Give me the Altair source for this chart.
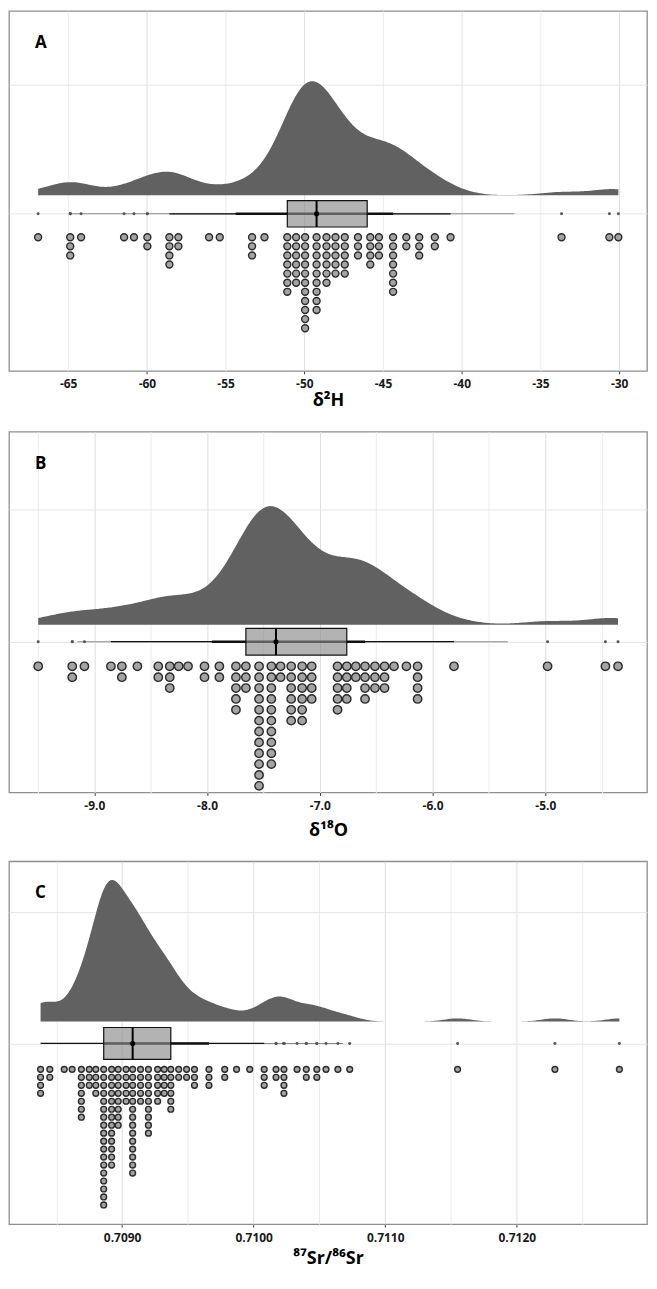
import altair as alt
import pandas as pd

# ---------------- data (dot-stack centres and number of stacked dots) ----------------
h2_values = [-66.91, -64.87, -64.18, -61.45, -60.82, -59.97, -58.57, -58.00, -56.05, -55.37,
             -53.32, -52.53, -51.08, -50.52, -49.95, -49.22, -48.59, -48.02, -47.43, -46.59,
             -45.81, -45.26, -44.36, -43.52, -42.70, -41.71, -40.71, -33.66, -30.62, -30.05]
h2_counts = [1, 3, 1, 1, 1, 2, 4, 2, 1, 1,
             3, 1, 7, 6, 11, 9, 6, 5, 5, 3,
             4, 3, 7, 2, 3, 2, 1, 1, 1, 1]

o18_values = [-9.498, -9.196, -9.088, -8.853, -8.756, -8.618, -8.433, -8.331, -8.252, -8.169,
              -8.023, -7.891, -7.744, -7.656, -7.539, -7.430, -7.348, -7.254, -7.157, -7.072,
              -6.843, -6.761, -6.681, -6.599, -6.511, -6.426, -6.342, -6.232, -6.133, -5.810,
              -4.980, -4.467, -4.355]
o18_counts = [1, 2, 1, 1, 2, 1, 2, 3, 1, 1,
              2, 2, 5, 3, 12, 10, 2, 6, 6, 4,
              5, 4, 2, 4, 3, 3, 1, 1, 4, 1,
              1, 1, 1]

sr_values = [0.70838, 0.70845, 0.70856, 0.70862, 0.70869, 0.70875, 0.70880, 0.70886, 0.70892, 0.70897,
             0.70903, 0.70908, 0.70914, 0.70920, 0.70927, 0.70932, 0.70937, 0.70943, 0.70949, 0.70955,
             0.70966, 0.70978, 0.70987, 0.70997, 0.71008, 0.71017, 0.71023, 0.71033, 0.71040, 0.71048,
             0.71055, 0.71064, 0.71073, 0.71155, 0.71229, 0.71278]
sr_counts = [4, 2, 1, 1, 7, 3, 4, 18, 13, 8,
             5, 14, 5, 9, 5, 4, 6, 2, 2, 3,
             3, 2, 1, 1, 3, 2, 4, 1, 2, 2,
             1, 1, 1, 1, 1, 1]

# ---------------- styling / layout ----------------
DENS_COLOR = "#616161"
DOT_FILL = "#a3a3a3"
DOT_STROKE = "#2b2b2b"
PLOT_W = 640
FONT = "Open Sans"


def expand(values, counts):
    rows = []
    for v, c in zip(values, counts):
        for k in range(c):
            rows.append({"val": v, "k": k})
    return pd.DataFrame(rows)


def neg_fmt(fmt):
    return ("datum.value < 0 ? '-' + format(-datum.value, '%s') : format(datum.value, '%s')" % (fmt, fmt))


panels = [
    dict(df=expand(h2_values, h2_counts), label="A", title="δ²H", tpad=2,
         xdom=[-68.76, -28.23], ticks=[-65, -60, -55, -50, -45, -40, -35, -30],
         major="datum.value % 10 === 0", labels="true", fmt=".0f",
         h=361, ydom=[-161, 208], ytick=132, base=19, H=117, bw=1.35,
         off=24, step=9.33, dsize=49, bh=13.5),
    dict(df=expand(o18_values, o18_counts), label="B", title="δ¹⁸O", tpad=10,
         xdom=[-9.757, -4.098], ticks=[-9.5, -9.0, -8.5, -8.0, -7.5, -7.0, -6.5, -6.0, -5.5, -5.0, -4.5],
         major="round(datum.value*10) % 10 === 0", labels="round(datum.value*10) % 10 === 0", fmt=".1f",
         h=362, ydom=[-151.3, 210.7], ytick=132.7, base=17, H=119, bw=0.22,
         off=24.7, step=10.9, dsize=71, bh=13.4),
    dict(df=expand(sr_values, sr_counts), label="C", title="⁸⁷Sr/⁸⁶Sr", tpad=6,
         xdom=[0.70814, 0.71299], ticks=[0.7085, 0.7090, 0.7095, 0.7100, 0.7105, 0.7110, 0.7115, 0.7120, 0.7125],
         major="round(datum.value*10000) % 10 === 0", labels="round(datum.value*10000) % 10 === 0", fmt=".4f",
         h=364, ydom=[-181.3, 182.7], ytick=132, base=22, H=142, bw=0.0001,
         off=26, step=8.0, dsize=34, bh=16),
]


def make_panel(p):
    df = p["df"]
    base = alt.Chart(df)
    xs = alt.Scale(domain=p["xdom"], nice=False, zero=False)
    ys = alt.Scale(domain=p["ydom"], nice=False, zero=False)
    xaxis = alt.Axis(
        values=p["ticks"], title=p["title"], domain=False, grid=True, titlePadding=p["tpad"],
        gridColor={"condition": {"test": p["major"], "value": "#dedede"}, "value": "#ececec"},
        gridWidth=1,
        tickColor={"condition": {"test": p["major"], "value": "#444444"}, "value": "rgba(0,0,0,0)"},
        tickSize=3,
        labelExpr="(%s) ? (%s) : ''" % (p["labels"], neg_fmt(p["fmt"])),
    )
    yaxis = alt.Axis(values=[0, p["ytick"]], labels=False, title=None, domain=False,
                     grid=True, gridColor="#e6e6e6", ticks=False)

    def X(f):
        return alt.X(f, scale=xs, axis=xaxis)

    def Y(f):
        return alt.Y(f, scale=ys, axis=yaxis)

    lo, hi = float(df["val"].min()), float(df["val"].max())

    density = (base.transform_density("val", as_=["v", "d"], bandwidth=p["bw"], extent=[lo, hi], steps=400)
               .transform_joinaggregate(dmax="max(d)")
               .transform_calculate(ytop="%f + datum.d / datum.dmax * %f" % (p["base"], p["H"]),
                                    ybot="%f" % p["base"])
               .mark_area(color=DENS_COLOR)
               .encode(x=X("v:Q"), y=Y("ytop:Q"), y2="ybot:Q"))

    fences = (base.transform_joinaggregate(q1="q1(val)", q3="q3(val)")
              .transform_calculate(flo="datum.q1 - 1.5*(datum.q3 - datum.q1)",
                                   fhi="datum.q3 + 1.5*(datum.q3 - datum.q1)", yr="0"))

    ci95 = (base.transform_quantile("val", probs=[0.025, 0.975], as_=["p", "q"])
            .transform_calculate(yr="0")
            .mark_rule(color="#8c8c8c", strokeWidth=1.1)
            .encode(x=X("min(q):Q"), x2="max(q):Q", y=Y("yr:Q")))

    whisker = (fences.transform_filter("datum.val >= datum.flo && datum.val <= datum.fhi")
               .mark_rule(color="#111111", strokeWidth=1.2)
               .encode(x=X("min(val):Q"), x2="max(val):Q", y=Y("yr:Q")))

    ci66 = (base.transform_quantile("val", probs=[0.17, 0.83], as_=["p", "q"])
            .transform_calculate(yr="0")
            .mark_rule(color="#111111", strokeWidth=2.4)
            .encode(x=X("min(q):Q"), x2="max(q):Q", y=Y("yr:Q")))

    box = (base.transform_calculate(yt="%f" % p["bh"], yb="%f" % (-p["bh"]))
           .mark_rect(fill="#8a8a8a", fillOpacity=0.65, stroke="#111111", strokeWidth=1.2)
           .encode(x=X("q1(val):Q"), x2="q3(val):Q", y=Y("yt:Q"), y2="yb:Q"))

    med_line = (base.transform_calculate(yt="%f" % p["bh"], yb="%f" % (-p["bh"]))
                .mark_rule(color="#000000", strokeWidth=2)
                .encode(x=X("median(val):Q"), y=Y("yt:Q"), y2="yb:Q"))

    med_pt = (base.transform_calculate(yr="0")
              .mark_circle(color="#000000", size=26, opacity=1)
              .encode(x=X("median(val):Q"), y=Y("yr:Q")))

    outliers = (fences.transform_filter("datum.val < datum.flo || datum.val > datum.fhi")
                .mark_circle(color="#555555", size=9, opacity=1)
                .encode(x=X("val:Q"), y=Y("yr:Q")))

    dots = (base.transform_calculate(yd="-(%f + datum.k * %f)" % (p["off"], p["step"]))
            .mark_circle(fill=DOT_FILL, stroke=DOT_STROKE, strokeWidth=1.4, size=p["dsize"], opacity=1)
            .encode(x=X("val:Q"), y=Y("yd:Q")))

    label = (alt.Chart(pd.DataFrame({"t": [p["label"]]}))
             .mark_text(fontSize=17, fontWeight="bold", align="left", baseline="middle",
                        font=FONT, color="#000000")
             .encode(text="t:N", x=alt.value(26), y=alt.value(32)))

    return alt.layer(density, ci95, whisker, ci66, box, med_line, med_pt, outliers, dots, label).properties(
        width=PLOT_W, height=p["h"])


chart = (alt.vconcat(*[make_panel(p) for p in panels], spacing=20)
         .properties(padding={"left": 0, "top": 0, "right": 1, "bottom": 0})
         .configure_view(stroke="#8f8f8f", strokeWidth=1.3)
         .configure_axis(labelFont=FONT, labelFontSize=12, labelFontWeight="bold", labelColor="#1a1a1a",
                         labelPadding=5, titleFont=FONT, titleFontSize=18, titleFontWeight="bold",
                         titleColor="#000000"))

chart.save("out.html", embed_options={"renderer": "svg", "actions": False})
